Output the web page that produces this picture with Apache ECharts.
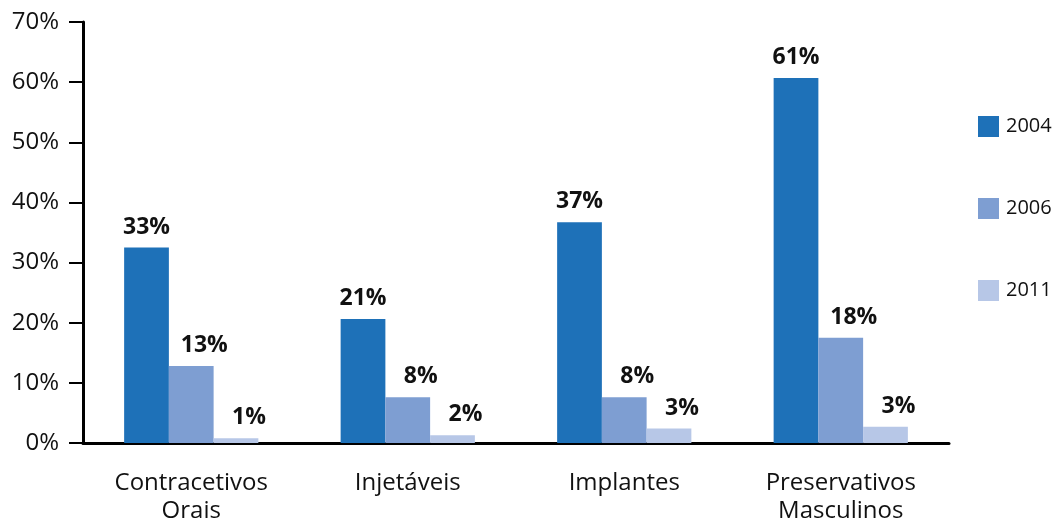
<!DOCTYPE html>
<html>
<head>
<meta charset="utf-8">
<title>Métodos contraceptivos</title>
<script src="https://cdn.jsdelivr.net/npm/echarts@6/dist/echarts.min.js"></script>
<style>
  html, body { margin: 0; padding: 0; background: #fff; }
  #chart { width: 1054px; height: 525px; }
</style>
</head>
<body>
<div id="chart"></div>
<script>
// categorias do eixo x
const categories = ["Contracetivos\nOrais", "Injetáveis", "Implantes", "Preservativos\nMasculinos"];
const years = ["2004", "2006", "2011"];

// alturas das barras (em %)
const values2004 = [32.5, 20.6, 36.7, 60.7];
const values2006 = [12.8, 7.6, 7.6, 17.5];
const values2011 = [0.8, 1.3, 2.4, 2.7];

// rótulos impressos sobre as barras
const labels2004 = ["33%", "21%", "37%", "61%"];
const labels2006 = ["13%", "8%", "8%", "18%"];
const labels2011 = ["1%", "2%", "3%", "3%"];

const yTicks = { min: 0, max: 70, interval: 10 };

const colors = ["#1e71b8", "#7e9ed2", "#b7c7e7"];
const font = "'Open Sans', 'Noto Sans', sans-serif";

function makeSeries(name, values, labels, color, offsetX) {
  return {
    name: name,
    type: "bar",
    data: values,
    barGap: "0%",
    barCategoryGap: "38%",
    itemStyle: { color: color },
    label: {
      show: true,
      position: "top",
      distance: 9,
      offset: [offsetX, 0],
      fontFamily: font,
      fontSize: 23,
      fontWeight: "bold",
      color: "#111",
      formatter: (p) => labels[p.dataIndex],
    },
  };
}

const chart = echarts.init(document.getElementById("chart"));

const option = {
  animation: false,
  textStyle: { fontFamily: font },
  grid: {
    left: 83,
    right: 105,
    top: 22,
    bottom: 73,
  },
  legend: {
    orient: "vertical",
    left: 973,
    top: 111,
    itemWidth: 21,
    itemHeight: 21,
    itemGap: 61,
    icon: "rect",
    textStyle: { fontFamily: font, fontSize: 20, color: "#111", padding: [0, 0, 0, 2] },
    data: years,
  },
  xAxis: {
    type: "category",
    data: categories,
    axisLine: { lineStyle: { color: "#000", width: 3 } },
    axisTick: { show: false },
    axisLabel: {
      fontFamily: font,
      fontSize: 24,
      color: "#111",
      margin: 26,
      lineHeight: 28,
      interval: 0,
    },
  },
  yAxis: {
    type: "value",
    min: yTicks.min,
    max: yTicks.max,
    interval: yTicks.interval,
    axisLine: { show: true, lineStyle: { color: "#000", width: 3 } },
    axisTick: { show: true, length: 14, lineStyle: { color: "#000", width: 2 } },
    splitLine: { show: false },
    axisLabel: {
      formatter: "{value}%",
      fontFamily: font,
      fontSize: 24,
      color: "#111",
      margin: 24,
    },
  },
  series: [
    makeSeries(years[0], values2004, labels2004, colors[0], 0),
    makeSeries(years[1], values2006, labels2006, colors[1], 13),
    makeSeries(years[2], values2011, labels2011, colors[2], 13),
  ],
};

chart.setOption(option);
</script>
</body>
</html>
